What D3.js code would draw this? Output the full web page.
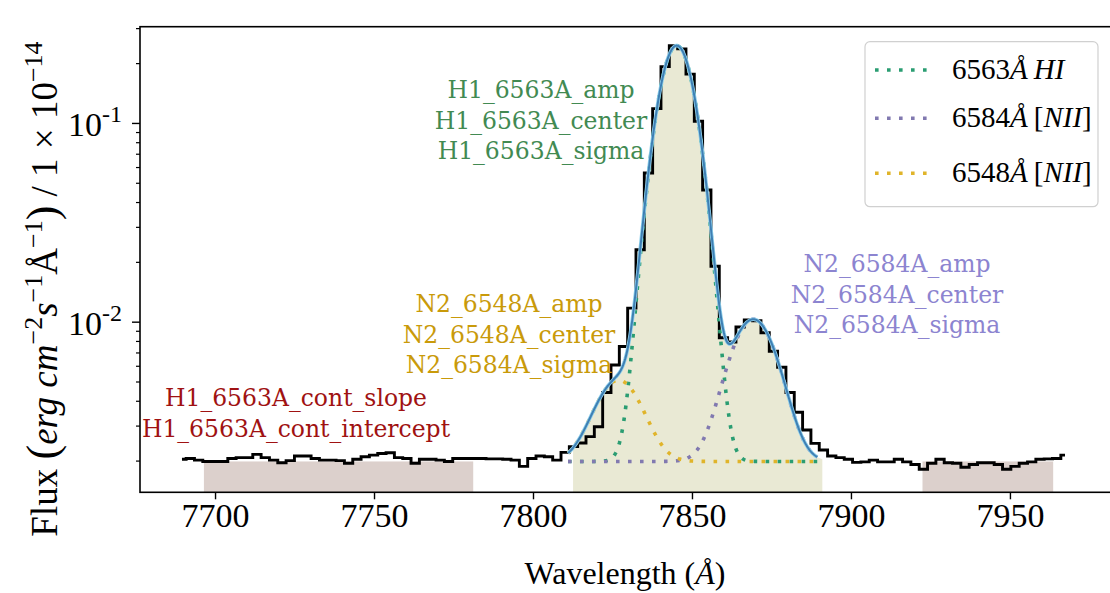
<!DOCTYPE html>
<html><head><meta charset="utf-8">
<script src="https://cdn.jsdelivr.net/npm/d3@7"></script>
<style>
html,body{margin:0;padding:0;background:#fff;}
svg{display:block;}
</style></head><body>
<svg id="chart" width="1110" height="593"></svg>
<script>
// Observed spectrum on a linear pixel grid (flux in units of 1e-14 erg/cm2/s/Å)
const waveStart = 7689.6;   // wavelength of the first pixel (Å)
const waveStep = 2.62;      // dispersion (Å / pixel)
const flux = [
  0.00203, 0.00205, 0.00201, 0.00198, 0.00198, 0.00198, 0.00205, 0.00207, 0.00207, 0.00215,
  0.00207, 0.00201, 0.00195, 0.00200, 0.00211, 0.00211, 0.00205, 0.00201, 0.00201, 0.00200,
  0.00194, 0.00203, 0.00209, 0.00213, 0.00217, 0.00219, 0.00207, 0.00205, 0.00194, 0.00203,
  0.00203, 0.00201, 0.00198, 0.00205, 0.00205, 0.00205, 0.00205, 0.00204, 0.00204, 0.00203,
  0.00201, 0.00187, 0.00205, 0.00211, 0.00209, 0.00201, 0.00220, 0.00235, 0.00245, 0.00264,
  0.00296, 0.00440, 0.00605, 0.00750, 0.01170, 0.02300, 0.05600, 0.11800, 0.19200, 0.24500,
  0.23600, 0.17600, 0.10200, 0.04600, 0.01900, 0.00830, 0.00790, 0.00940, 0.01020, 0.01010,
  0.00880, 0.00710, 0.00590, 0.00440, 0.00350, 0.00285, 0.00244, 0.00226, 0.00211, 0.00207,
  0.00203, 0.00196, 0.00197, 0.00201, 0.00197, 0.00197, 0.00203, 0.00197, 0.00191, 0.00181,
  0.00194, 0.00203, 0.00195, 0.00194, 0.00185, 0.00191, 0.00195, 0.00195, 0.00191, 0.00181,
  0.00187, 0.00194, 0.00197, 0.00203, 0.00204, 0.00205, 0.00213
];

// Gaussian components of the fit
const lineLabels = ["6563", "6584", "6548"];
const lineIons = ["HI", "[NII]", "[NII]"];
const lineAmp = [0.243, 0.0083, 0.0031];
const lineCenter = [7845.2, 7869.3, 7826.9];
const lineSigma = [5.1, 6.8, 6.8];
const lineColors = ["#2a9d72", "#8179b0", "#e0b42a"];
const contLevel = 0.00198;

// Fitting windows (Å)
const lineBand = [7812.6, 7891.1];
const contBands = [[7696.5, 7781.2], [7922.5, 7963.6]];
const fitRange = [7811.0, 7889.5];

// Axis ticks
const xTicks = [7700, 7750, 7800, 7850, 7900, 7950];
const yMajorTicks = [0.01, 0.1];
const yMajorExp = ["-2", "-1"];

// Parameter annotations
const paramText = [
  ["H1_6563A_amp", "H1_6563A_center", "H1_6563A_sigma"],
  ["N2_6584A_amp", "N2_6584A_center", "N2_6584A_sigma"],
  ["N2_6548A_amp", "N2_6548A_center", "N2_6584A_sigma"],
  ["H1_6563A_cont_slope", "H1_6563A_cont_intercept"]
];
const paramColors = ["#428a52", "#8c84d0", "#c99a0a", "#a01212"];

(function draw() {
  const svg = d3.select("#chart");
  const pL = 140, pR = 1112, pT = 26.7, pB = 492.3;

  const x = d3.scaleLinear().domain([7676.4, 7982.1]).range([pL, pR]);
  const y = d3.scaleLog().domain([0.001385, 0.305]).range([pB, pT]);

  const wave = flux.map((_, i) => waveStart + i * waveStep);

  const gauss = (k, w) => lineAmp[k] * Math.exp(-0.5 * ((w - lineCenter[k]) / lineSigma[k]) ** 2);
  const modelTotal = w => contLevel + lineAmp.reduce((s, _, k) => s + gauss(k, w), 0);

  svg.append("clipPath").attr("id", "clip")
    .append("rect").attr("x", pL).attr("y", pT).attr("width", pR - pL).attr("height", pB - pT);
  const plot = svg.append("g").attr("clip-path", "url(#clip)");

  // continuum windows
  plot.selectAll("rect.cont").data(contBands).join("rect")
    .attr("class", "cont")
    .attr("x", d => x(d[0])).attr("width", d => x(d[1]) - x(d[0]))
    .attr("y", y(contLevel)).attr("height", pB - y(contLevel))
    .attr("fill", "#dcd0cc");

  // line window filled under the fitted profile
  const bandGrid = d3.range(lineBand[0], lineBand[1] + 0.01, 0.2);
  plot.append("path")
    .datum(bandGrid)
    .attr("d", d3.area().x(w => x(w)).y0(pB).y1(w => y(modelTotal(w))))
    .attr("fill", "#e9e9d4");

  // observed spectrum
  plot.append("path")
    .datum(d3.zip(wave, flux))
    .attr("d", d3.line().x(d => x(d[0])).y(d => y(d[1])).curve(d3.curveStep))
    .attr("fill", "none").attr("stroke", "#000").attr("stroke-width", 2.9)
    .attr("stroke-linejoin", "miter");

  // individual components
  const fitGrid = d3.range(fitRange[0], fitRange[1] + 0.01, 0.2);
  lineAmp.forEach((_, k) => {
    plot.append("path")
      .datum(fitGrid)
      .attr("d", d3.line().x(w => x(w)).y(w => y(contLevel + gauss(k, w))))
      .attr("fill", "none").attr("stroke", lineColors[k]).attr("stroke-width", 3.6)
      .attr("stroke-dasharray", "3.6 8.4");
  });

  // total fit
  const totalLine = d3.line().x(w => x(w)).y(w => y(modelTotal(w)));
  plot.append("path").datum(fitGrid).attr("d", totalLine)
    .attr("fill", "none").attr("stroke", "#8fd0ec").attr("stroke-width", 3.6);
  plot.append("path").datum(fitGrid).attr("d", totalLine)
    .attr("fill", "none").attr("stroke", "#3f7fb3").attr("stroke-width", 2);

  // axes
  const serif = "'Liberation Serif', 'Times New Roman', serif";
  const xAxis = svg.append("g").attr("transform", `translate(0,${pB})`)
    .call(d3.axisBottom(x).tickValues(xTicks).tickSize(7).tickPadding(4).tickFormat(d3.format("d")));
  xAxis.select(".domain").remove();
  xAxis.selectAll("line").attr("stroke", "#000").attr("stroke-width", 1.4);
  xAxis.selectAll("text").attr("font-family", serif).attr("font-size", 34).attr("fill", "#000")
    .attr("dy", "0.71em");

  const yMinor = [];
  for (let e = -3; e <= -1; e++) for (let m = 2; m <= 9; m++) {
    const v = m * Math.pow(10, e);
    if (v >= y.domain()[0] && v <= y.domain()[1]) yMinor.push(v);
  }
  const yAxis = svg.append("g").attr("transform", `translate(${pL},0)`);
  yAxis.call(d3.axisLeft(y).tickValues(yMinor).tickSize(4).tickFormat(""));
  yAxis.select(".domain").remove();
  yAxis.selectAll("line").attr("stroke", "#000").attr("stroke-width", 1.2);

  const yMajor = svg.append("g").attr("transform", `translate(${pL},0)`);
  yMajor.call(d3.axisLeft(y).tickValues(yMajorTicks).tickSize(8).tickFormat(""));
  yMajor.select(".domain").remove();
  yMajor.selectAll("line").attr("stroke", "#000").attr("stroke-width", 1.4);
  yMajorTicks.forEach((v, i) => {
    const t = svg.append("text").attr("x", 122).attr("y", y(v) + 13)
      .attr("text-anchor", "end").attr("font-family", serif).attr("font-size", 34).attr("fill", "#000");
    t.append("tspan").text("10");
    t.append("tspan").attr("dy", -14).attr("font-size", 24).text(yMajorExp[i]);
  });

  // frame
  svg.append("rect").attr("x", pL).attr("y", pT).attr("width", pR - pL).attr("height", pB - pT)
    .attr("fill", "none").attr("stroke", "#000").attr("stroke-width", 1.6);

  // axis labels
  const xl = svg.append("text").attr("x", 625).attr("y", 584).attr("text-anchor", "middle")
    .attr("font-family", serif).attr("font-size", 32).attr("fill", "#000");
  xl.append("tspan").text("Wavelength (");
  xl.append("tspan").attr("font-style", "italic").text("Å");
  xl.append("tspan").text(")");

  const yl = svg.append("text").attr("transform", "translate(57,289) rotate(-90)")
    .attr("text-anchor", "middle").attr("font-family", serif).attr("font-size", 37).attr("fill", "#000");
  yl.append("tspan").text("Flux ");
  yl.append("tspan").attr("font-size", 44).text("(");
  yl.append("tspan").attr("font-style", "italic").text("erg cm");
  yl.append("tspan").attr("dy", -15).attr("font-size", 26).text("−2");
  yl.append("tspan").attr("dy", 15).attr("font-style", "italic").text("s");
  yl.append("tspan").attr("dy", -15).attr("font-size", 26).text("−1");
  yl.append("tspan").attr("dy", 15).text("Å");
  yl.append("tspan").attr("dy", -15).attr("font-size", 26).text("−1");
  yl.append("tspan").attr("dy", 15).attr("font-size", 44).text(")");
  yl.append("tspan").text(" / 1 × 10");
  yl.append("tspan").attr("dy", -15).attr("font-size", 26).text("−14");

  // parameter annotations
  const annFont = "'DejaVu Serif', serif";
  const annPos = [[541, 98], [897, 272], [509, 312], [296, 406]];
  paramText.forEach((lines, k) => {
    const t = svg.append("text").attr("text-anchor", "middle").attr("font-family", annFont)
      .attr("font-size", 23.5).attr("fill", paramColors[k]);
    lines.forEach((s, j) => t.append("tspan").attr("x", annPos[k][0]).attr("y", annPos[k][1] + j * 30.5).text(s));
  });

  // legend
  const lg = svg.append("g");
  lg.append("rect").attr("x", 865).attr("y", 41.7).attr("width", 233).attr("height", 165).attr("rx", 5)
    .attr("fill", "#fff").attr("fill-opacity", 0.85).attr("stroke", "#d0d0d0").attr("stroke-width", 1.2);
  const legY = [70, 118.3, 173.3];
  lineLabels.forEach((lab, k) => {
    lg.append("line").attr("x1", 875).attr("x2", 930).attr("y1", legY[k]).attr("y2", legY[k])
      .attr("stroke", lineColors[k]).attr("stroke-width", 3.6).attr("stroke-dasharray", "3.6 8.4");
    const t = lg.append("text").attr("x", 952).attr("y", legY[k] + 8.5)
      .attr("font-family", serif).attr("font-size", 29).attr("fill", "#000");
    t.append("tspan").text(lab);
    t.append("tspan").attr("font-style", "italic").text("Å");
    const ion = lineIons[k];
    if (ion.startsWith("[")) {
      t.append("tspan").attr("dx", 6).text("[");
      t.append("tspan").attr("font-style", "italic").text(ion.slice(1, -1));
      t.append("tspan").text("]");
    } else {
      t.append("tspan").attr("dx", 6).attr("font-style", "italic").text(ion);
    }
  });
})();
</script>
</body></html>
